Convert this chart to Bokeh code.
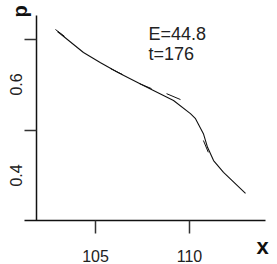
import numpy as np
from bokeh.plotting import figure
from bokeh.models import Label, Range1d
from bokeh.embed import file_html
from bokeh.resources import INLINE

# main curve p(x)
curve_x = [102.98, 104.36, 105.27, 106.22, 107.55, 109.15, 110.05, 110.32, 110.74, 110.96, 111.28, 111.81, 112.98]
curve_p = [0.6176, 0.5714, 0.549, 0.527, 0.499, 0.466, 0.437, 0.426, 0.393, 0.363, 0.334, 0.308, 0.262]

# short fitted segments overlaid on the curve
seg_x0 = [102.87, 105.80, 107.34, 108.78, 110.74]
seg_p0 = [0.622, 0.536, 0.503, 0.481, 0.378]
seg_x1 = [103.35, 106.44, 107.98, 109.52, 111.00]
seg_p1 = [0.607, 0.523, 0.492, 0.468, 0.352]

x_ticks = [105, 110]
x_tick_labels = ["105", "110"]
y_ticks = [0.4, 0.6]
y_tick_labels = ["0.4", "0.6"]
annot_lines = ["E=44.8", "t=176"]
x_label = "x"
y_label = "p"

# axes extents (data units)
AX_X0, AX_X1 = 101.223, 114.043   # x-axis line extent
AX_Y0, AX_Y1 = 0.2022, 0.6527     # y-axis line extent
Y_AXIS_AT = 101.862
PX_X = 18.8    # pixels per x unit
PX_Y = 455.0   # pixels per p unit
X_TICK_LEN = 13 / PX_Y
Y_TICK_LEN = 12 / PX_X

FONT = "Liberation Sans"
TXT = "#222222"

p = figure(width=277, height=264, output_backend="svg", toolbar_location=None,
           x_range=Range1d(99.947, 114.681), y_range=Range1d(0.1055, 0.6857),
           min_border=0)
p.outline_line_color = None
p.axis.visible = False
p.xgrid.visible = False
p.ygrid.visible = False
p.background_fill_color = "white"
p.border_fill_color = "white"

AXC = "#111111"
# x axis line and ticks
p.segment([AX_X0], [AX_Y0], [AX_X1], [AX_Y0], line_color=AXC, line_width=1.5)
p.segment(x_ticks, [AX_Y0] * len(x_ticks), x_ticks, [AX_Y0 - X_TICK_LEN] * len(x_ticks),
          line_color="#333333", line_width=1.5)
# y axis line and ticks
p.segment([Y_AXIS_AT], [AX_Y0], [Y_AXIS_AT], [AX_Y1], line_color=AXC, line_width=1.5)
p.segment([Y_AXIS_AT - Y_TICK_LEN] * len(y_ticks), y_ticks, [Y_AXIS_AT] * len(y_ticks), y_ticks,
          line_color="#333333", line_width=1.5)

# x tick labels
for v, t in zip(x_ticks, x_tick_labels):
    p.add_layout(Label(x=v, y=AX_Y0, text=t, y_offset=-35,
                       text_align="center", text_baseline="alphabetic",
                       text_font=FONT, text_font_size="16px", text_color=TXT))

# y tick labels, rotated and placed below their ticks
for v, t in zip(y_ticks, y_tick_labels):
    p.add_layout(Label(x=Y_AXIS_AT - 21 / PX_X, y=v - 45 / PX_Y, text=t,
                       angle=np.pi / 2, text_align="center", text_baseline="middle",
                       text_font=FONT, text_font_size="16px", text_color=TXT))

# curve and segments
p.line(curve_x, curve_p, line_color="#111111", line_width=1.1)
p.segment(seg_x0, seg_p0, seg_x1, seg_p1, line_color="#111111", line_width=1)

# annotation text
for i, t in enumerate(annot_lines):
    p.add_layout(Label(x=Y_AXIS_AT, y=AX_Y1, text=t, x_offset=112, y_offset=-18 - 20 * i,
                       text_align="left", text_baseline="alphabetic",
                       text_font=FONT, text_font_size="18px", text_color=TXT))

# axis names
p.add_layout(Label(x=AX_X1, y=AX_Y0, text=x_label, x_offset=-3, y_offset=-26,
                   text_align="center", text_baseline="alphabetic",
                   text_font=FONT, text_font_size="22px", text_font_style="bold", text_color="#111111"))
p.add_layout(Label(x=Y_AXIS_AT - 17 / PX_X, y=AX_Y1 + 4 / PX_Y, text=y_label,
                   angle=np.pi / 2, text_align="center", text_baseline="middle",
                   text_font=FONT, text_font_size="20px", text_font_style="bold", text_color="#111111"))

open("out.html", "w").write(file_html(p, INLINE))
